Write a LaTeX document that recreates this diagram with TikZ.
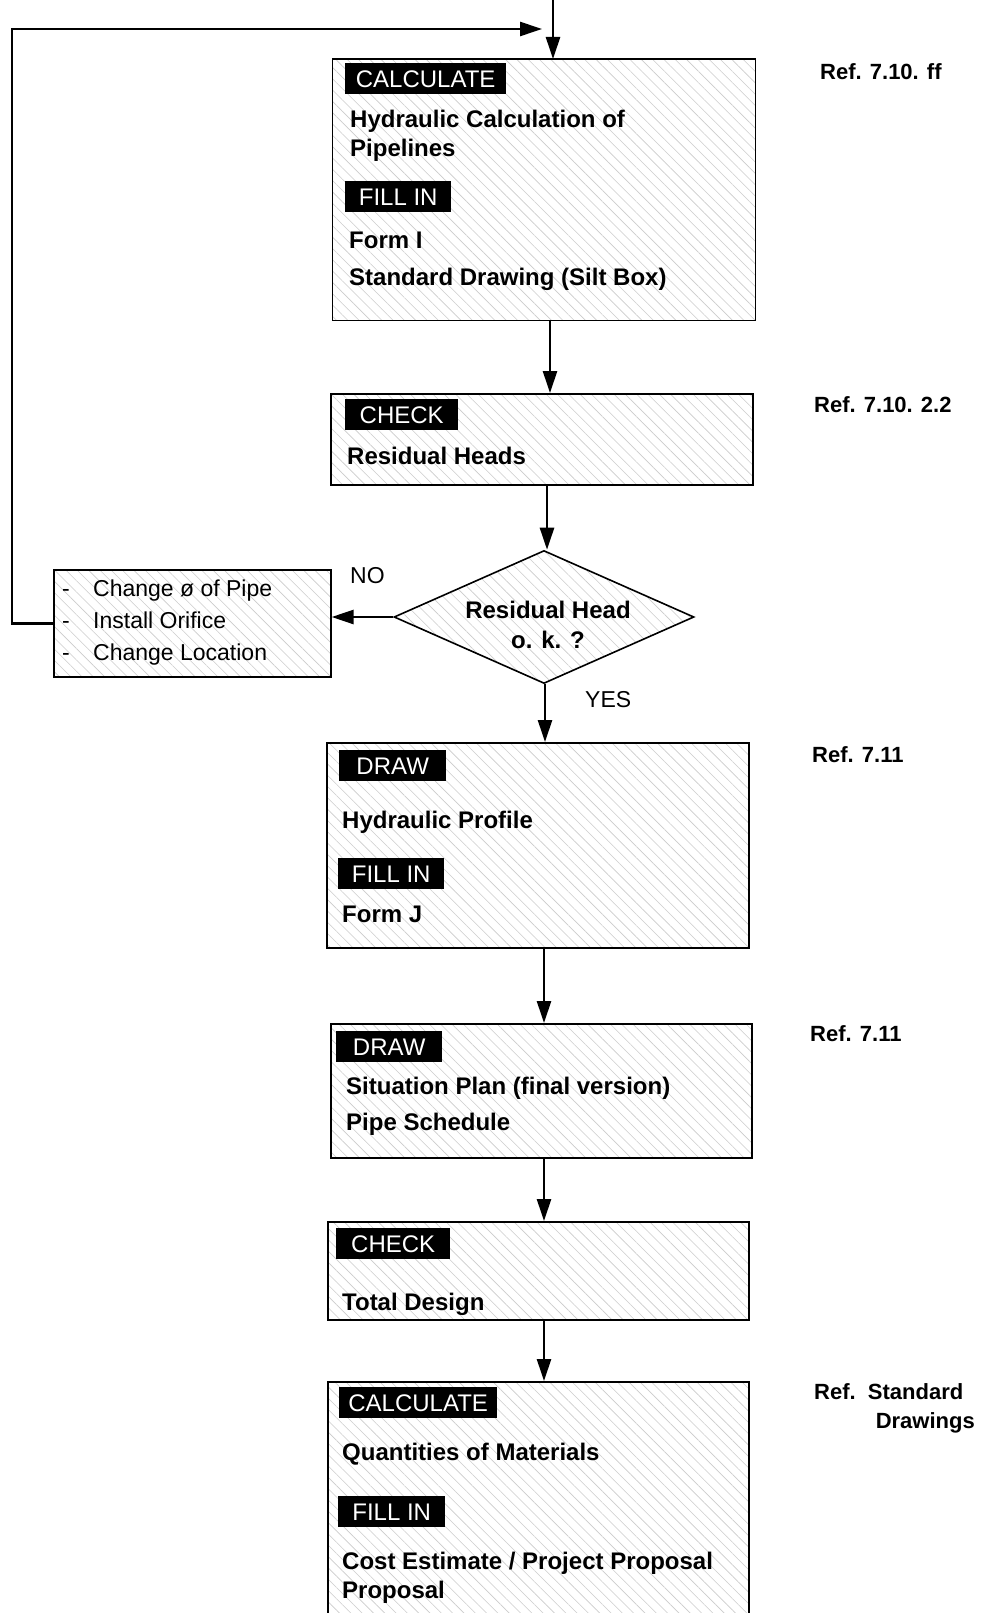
\documentclass[tikz,border=0pt]{standalone}
\usepackage{fontspec}
\setmainfont{Liberation Sans}
\usetikzlibrary{shapes.geometric,arrows.meta,patterns.meta}
\begin{document}
\begin{tikzpicture}[x=1pt,y=-1pt,
  boxstyle/.style={draw, line width=1.6pt, anchor=north west, inner sep=0pt,
    preaction={fill=white},
    pattern={Lines[angle=-45,distance=8pt,line width=0.6pt]}, pattern color=black!20},
  tag/.style={fill=black, text=white, anchor=north west, inner xsep=4pt, inner ysep=7pt,
    text height=17pt, text depth=0pt, font=\fontsize{24}{28}\selectfont},
  txt/.style={anchor=base west, inner sep=0pt, font=\bfseries\fontsize{24}{29}\selectfont},
  rtxt/.style={anchor=base west, inner sep=0pt, font=\fontsize{23}{28}\selectfont},
  reftxt/.style={anchor=base west, inner sep=0pt, font=\bfseries\fontsize{22}{27}\selectfont},
  arr/.style={line width=2.6pt, -{Triangle[length=22pt,width=14pt]}},
  ln/.style={line width=2.6pt}]
\useasboundingbox (0,0) rectangle (981,1613);
\clip (0,0) rectangle (981,1613);

% coordinates for arrow x positions
\coordinate (top) at (553,0);
\coordinate (ca) at (550,0);
\coordinate (cb) at (547,0);
\coordinate (cc) at (545,0);
\coordinate (cd) at (544,0);
\coordinate (fbl) at (12,29);
\coordinate (fb) at (542,29);

% Box 1
\node[boxstyle, minimum width=423pt, minimum height=261pt] (b1) at (332,59) {};
\node[tag, minimum width=161pt] (b1t1) at (345,63) {CALCULATE};
\node[txt] (b1a) at (350,128) {Hydraulic Calculation of};
\node[txt] (b1b) at (350,157) {Pipelines};
\node[tag, minimum width=106pt] (b1t2) at (345,181) {FILL IN};
\node[txt] (b1c) at (349,248) {Form I};
\node[txt] (b1d) at (349,285) {Standard Drawing (Silt Box)};
\node[reftxt] (r1) at (820,80) {Ref. 7.10. ff};

% Box 2
\node[boxstyle, minimum width=422pt, minimum height=91pt] (b2) at (330,393) {};
\node[tag, minimum width=113pt] (b2t1) at (345,399) {CHECK};
\node[txt] (b2a) at (347,464) {Residual Heads};
\node[reftxt] (r2) at (814,412) {Ref. 7.10. 2.2};

% Diamond
\node[draw, line width=1.6pt, shape=diamond, inner sep=0pt,
  minimum width=300pt, minimum height=133pt,
  preaction={fill=white},
  pattern={Lines[angle=-45,distance=8pt,line width=0.6pt]}, pattern color=black!20] (dia) at (544,617) {};
\node[align=center, inner sep=0pt, font=\bfseries\fontsize{24}{30}\selectfont] (diat) at (548,625) {Residual Head\\o. k. ?};
\node[rtxt] (no) at (350,583) {NO};
\node[rtxt] (yes) at (585,707) {YES};

% Change box
\node[boxstyle, minimum width=277pt, minimum height=107pt] (chg) at (53,569) {};
\node[rtxt] (c1d) at (62,596) {-};
\node[rtxt] (c1) at (93,596) {Change ø of Pipe};
\node[rtxt] (c2d) at (62,628) {-};
\node[rtxt] (c2) at (93,628) {Install Orifice};
\node[rtxt] (c3d) at (62,660) {-};
\node[rtxt] (c3) at (93,660) {Change Location};

% Box 3
\node[boxstyle, minimum width=422pt, minimum height=205pt] (b3) at (326,742) {};
\node[tag, minimum width=107pt] (b3t1) at (339,750) {DRAW};
\node[txt] (b3a) at (342,828) {Hydraulic Profile};
\node[tag, minimum width=106pt] (b3t2) at (338,858) {FILL IN};
\node[txt] (b3b) at (342,922) {Form J};
\node[reftxt] (r3) at (812,762) {Ref. 7.11};

% Box 4
\node[boxstyle, minimum width=421pt, minimum height=134pt] (b4) at (330,1023) {};
\node[tag, minimum width=106pt] (b4t1) at (336,1031) {DRAW};
\node[txt] (b4a) at (346,1094) {Situation Plan (final version)};
\node[txt] (b4b) at (346,1130) {Pipe Schedule};
\node[reftxt] (r4) at (810,1041) {Ref. 7.11};

% Box 5
\node[boxstyle, minimum width=421pt, minimum height=98pt] (b5) at (327,1221) {};
\node[tag, minimum width=114pt] (b5t1) at (336,1228) {CHECK};
\node[txt] (b5a) at (342,1310) {Total Design};

% Box 6
\node[boxstyle, minimum width=421pt, minimum height=300pt] (b6) at (327,1381) {};
\node[tag, minimum width=158pt] (b6t1) at (339,1387) {CALCULATE};
\node[txt] (b6a) at (342,1460) {Quantities of Materials};
\node[tag, minimum width=107pt] (b6t2) at (338,1496) {FILL IN};
\node[txt] (b6b) at (342,1569) {Cost Estimate / Project Proposal};
\node[txt] (b6c) at (342,1598) {Proposal};
\node[reftxt] (r6a) at (814,1399) {Ref.\ \ Standard};
\node[reftxt, anchor=base east] (r6b) at (975,1428) {Drawings};

% Connectors
\draw[arr] (top) -- (b1.north -| top);
\draw[arr] (b1.south -| ca) -- (b2.north -| ca);
\draw[arr] (b2.south -| cb) -- (dia.north -| cb);
\draw[arr] (dia.west) -- (dia.west -| chg.east);
\draw[arr] (dia.south -| cc) -- (b3.north -| cc);
\draw[arr] (b3.south -| cd) -- (b4.north -| cd);
\draw[arr] (b4.south -| cd) -- (b5.north -| cd);
\draw[arr] (b5.south -| cd) -- (b6.north -| cd);
\draw[arr] (chg.west) -| (fbl) -- (fb);
\end{tikzpicture}
\end{document}
